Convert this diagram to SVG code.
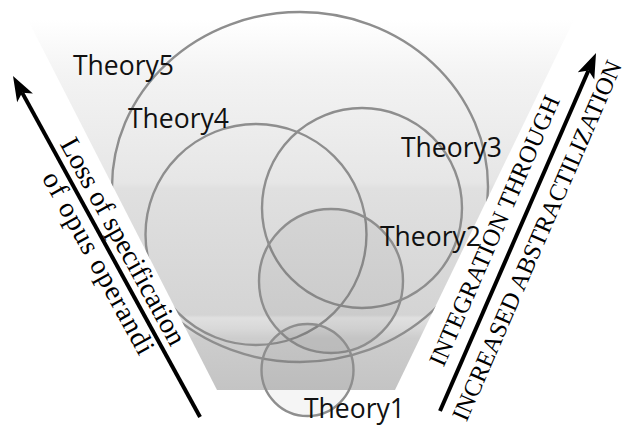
<svg xmlns="http://www.w3.org/2000/svg" width="626" height="427" viewBox="0 0 626 427">
<defs>
<linearGradient id="bg" gradientUnits="userSpaceOnUse" x1="0" y1="20" x2="0" y2="390">
<stop offset="0" stop-color="#ffffff"/>
<stop offset="0.15" stop-color="#f3f3f3"/>
<stop offset="0.44" stop-color="#e6e6e6"/>
<stop offset="0.455" stop-color="#e0e0e0"/>
<stop offset="0.797" stop-color="#d4d4d4"/>
<stop offset="0.805" stop-color="#e0e0e0"/>
<stop offset="0.835" stop-color="#d8d8d8"/>
<stop offset="0.86" stop-color="#cdcdcd"/>
<stop offset="1" stop-color="#c4c4c4"/>
</linearGradient>
<clipPath id="wedge">
<polygon points="12.6,-10 588.3,-10 375.8,430 237.4,430"/>
</clipPath>
<style>
.ring{fill:none;stroke:#8e8e8e;stroke-width:2.4}
.lbl{font-family:"Open Sans","DejaVu Sans",sans-serif;font-size:26.5px;fill:#111}
.side{font-family:"Liberation Serif","Times New Roman",serif;fill:#000}
.shaft{stroke:#000;stroke-width:4;fill:none}
.head{fill:#000}
</style>
</defs>
<rect width="626" height="427" fill="#ffffff"/>
<polygon id="background" points="26.9,18 574.8,18 395,390 217,390" fill="url(#bg)"/>
<g id="theory5">
<ellipse class="ring" cx="300" cy="187" rx="188" ry="175" clip-path="url(#wedge)" stroke="#999"/>
<text class="lbl" x="73" y="75">Theory5</text>
</g>
<g id="theory4">
<circle class="ring" cx="256" cy="234.5" r="110.5" clip-path="url(#wedge)" stroke="#8a8a8a"/>
<text class="lbl" x="128" y="128">Theory4</text>
</g>
<g id="theory3">
<circle class="ring" cx="362" cy="208" r="100" clip-path="url(#wedge)" stroke="#ababab"/>
<text class="lbl" x="401" y="157">Theory3</text>
</g>
<g id="theory2">
<circle class="ring" cx="331" cy="281" r="72" fill="#000" fill-opacity="0.04" style="fill:#000;fill-opacity:0.04" stroke="#888"/>
<text class="lbl" x="380" y="246">Theory2</text>
</g>
<g id="theory1">
<circle class="ring" cx="307.5" cy="370" r="46" style="fill:#000;fill-opacity:0.04" stroke="#999"/>
<text class="lbl" x="304" y="418">Theory1</text>
</g>
<g id="connectors">
<g id="arrow-left" transform="translate(13,76) rotate(61.26)">
<line class="shaft" x1="19" y1="0" x2="389" y2="0"/>
<polygon class="head" points="0,0 25,-9 19,0 25,9"/>
<text class="side" x="82" y="-8" font-size="28" textLength="232">Loss of specification</text>
<text class="side" x="103" y="24" font-size="28" textLength="204">of opus operandi</text>
</g>
<g id="arrow-right" transform="translate(440,411) rotate(-66.45)">
<line class="shaft" x1="0" y1="0" x2="371.5" y2="0"/>
<polygon class="head" points="390.5,0 365.5,-9 371.5,0 365.5,9"/>
<text class="side" x="41" y="-14" font-size="24.5" textLength="292">INTEGRATION THROUGH</text>
<text class="side" x="0" y="29" font-size="24.5">INCREASED ABSTRACTILIZATION</text>
</g>
</g>
</svg>
